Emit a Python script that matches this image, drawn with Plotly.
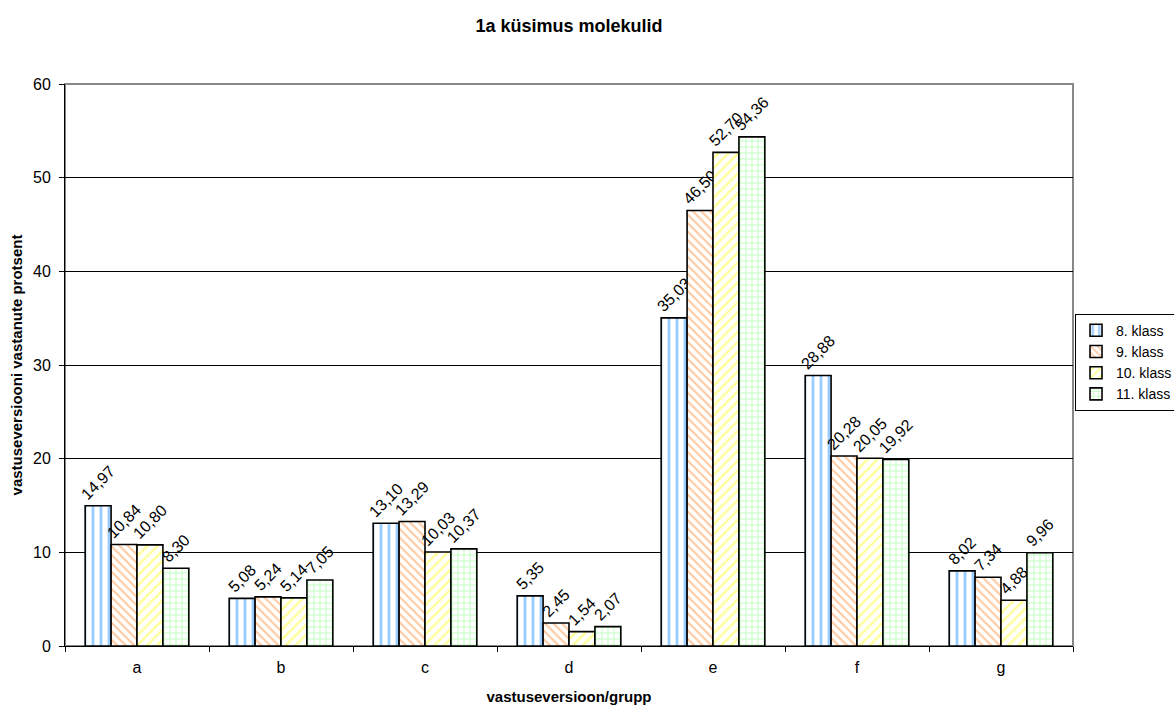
import plotly.graph_objects as go

categories = ["a", "b", "c", "d", "e", "f", "g"]
series_names = ["8. klass", "9. klass", "10. klass", "11. klass"]
v8 = [14.97, 5.08, 13.10, 5.35, 35.03, 28.88, 8.02]
v9 = [10.84, 5.24, 13.29, 2.45, 46.50, 20.28, 7.34]
v10 = [10.80, 5.14, 10.03, 1.54, 52.70, 20.05, 4.88]
v11 = [8.30, 7.05, 10.37, 2.07, 54.36, 19.92, 9.96]
values = [v8, v9, v10, v11]

pattern_colors = ["#99CCFF", "#FFC8A0", "#FFFF99", "#C0FFC0"]
pattern_shapes = ["|", "\\", "/", "+"]
pattern_sizes = [8, 6, 7, 6]
pattern_solidity = [0.35, 0.35, 0.35, 0.3]

FONT = "Liberation Sans, Arial, sans-serif"

fig = go.Figure()
for name, vals, col, shp, sz, sol in zip(series_names, values, pattern_colors,
                                          pattern_shapes, pattern_sizes, pattern_solidity):
    fig.add_trace(go.Bar(
        name=name,
        x=categories,
        y=vals,
        text=[f"{v:.2f}".replace(".", ",") for v in vals],
        textposition="outside",
        textangle=-45,
        textfont=dict(family=FONT, size=16, color="black"),
        cliponaxis=False,
        constraintext="none",
        marker=dict(
            color="white",
            line=dict(color="black", width=1.6),
            pattern=dict(shape=shp, fgcolor=col, bgcolor="white", size=sz, solidity=sol),
        ),
    ))

fig.update_layout(
    template="none",
    width=1174, height=705,
    margin=dict(l=65, r=101, t=84, b=59, pad=0, autoexpand=False),
    paper_bgcolor="white", plot_bgcolor="white",
    barmode="group", bargap=0.28, bargroupgap=0,
    font=dict(family=FONT, size=15, color="black"),
    title=dict(text="<b>1a küsimus molekulid</b>", x=0.5, xref="paper", xanchor="center",
               y=1 - 26 / 705, yanchor="middle", font=dict(size=18)),
    legend=dict(x=1.002, y=0.505, xanchor="left", yanchor="middle",
                bgcolor="white", bordercolor="black", borderwidth=1, font=dict(size=14),
                traceorder="normal", itemwidth=30),
    shapes=[dict(type="rect", xref="paper", yref="paper", x0=0, y0=0, x1=1, y1=1,
                 line=dict(color="#888888", width=2), layer="below")],
    showlegend=True,
)
fig.update_xaxes(
    showline=True, linecolor="black", linewidth=1, automargin=False,
    ticks="outside", ticklen=5, tickcolor="black", tickson="boundaries",
    showgrid=False, zeroline=False,
    ticklabelstandoff=7,
    tickfont=dict(size=16),
    title=dict(text="<b>vastuseversioon/grupp</b>", font=dict(size=15), standoff=16),
)
fig.update_yaxes(
    range=[0, 60], dtick=10, automargin=False,
    showline=True, linecolor="black", linewidth=1,
    ticks="outside", ticklen=5, tickcolor="black",
    ticklabelstandoff=5,
    showgrid=True, gridcolor="black", gridwidth=1, zeroline=False,
    tickfont=dict(size=16),
    title=dict(text="<b>vastuseversiooni vastanute protsent</b>", font=dict(size=15), standoff=6),
)

fig.write_html("out.html")
